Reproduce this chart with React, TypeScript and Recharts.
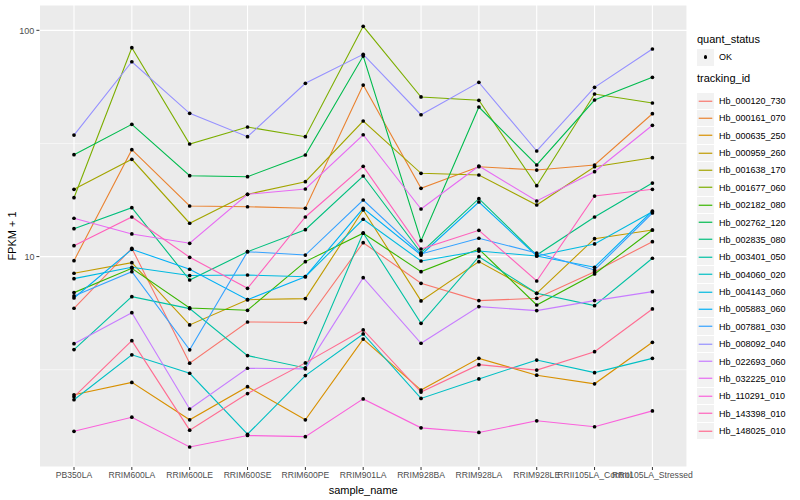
import React from "react";
import {
  LineChart,
  Line,
  XAxis,
  YAxis,
  CartesianGrid,
  ReferenceLine,
} from "recharts";

// sample names along the x axis
const samples = [
  "PB350LA",
  "RRIM600LA",
  "RRIM600LE",
  "RRIM600SE",
  "RRIM600PE",
  "RRIM901LA",
  "RRIM928BA",
  "RRIM928LA",
  "RRIM928LE",
  "RRII105LA_Control",
  "RRII105LA_Stressed",
];

// FPKM + 1, one array per tracking_id, in sample order
const hb000120_730 = [5.91, 10.88, 3.38, 5.14, 5.11, 11.52, 7.62, 6.39, 6.54, 8.58, 11.64];
const hb000161_070 = [9.59, 29.68, 16.73, 16.61, 16.35, 57.3, 20.04, 24.96, 24.13, 25.4, 42.8];
const hb000635_250 = [2.45, 2.78, 1.9, 2.66, 1.9, 4.32, 2.57, 3.55, 2.99, 2.74, 4.18];
const hb000959_260 = [8.44, 9.4, 4.99, 6.45, 6.52, 16.07, 6.37, 9.5, 6.88, 12.0, 13.11];
const hb001638_170 = [19.83, 26.92, 14.04, 18.85, 21.43, 39.74, 23.34, 22.94, 16.9, 24.96, 27.35];
const hb001677_060 = [18.21, 83.8, 31.45, 37.38, 33.87, 104.2, 50.75, 49.06, 20.57, 52.3, 47.72];
const hb002182_080 = [6.93, 8.88, 5.93, 5.79, 9.5, 12.68, 8.58, 10.8, 6.11, 8.38, 13.11];
const hb002762_120 = [28.21, 38.42, 22.78, 22.55, 28.12, 76.97, 11.76, 45.83, 25.4, 49.2, 62.0];
const hb002835_080 = [13.28, 16.45, 7.88, 10.51, 13.15, 22.71, 10.4, 18.03, 10.16, 14.96, 21.14];
const hb003401_050 = [3.88, 6.65, 5.89, 3.65, 3.22, 12.72, 5.07, 9.99, 6.88, 6.07, 9.83];
const hb004060_020 = [2.33, 3.68, 3.05, 1.64, 2.98, 4.55, 2.36, 2.88, 3.49, 3.07, 3.55];
const hb004143_060 = [7.99, 8.97, 8.25, 8.29, 8.15, 14.62, 9.56, 10.58, 10.06, 11.37, 15.79];
const hb005883_060 = [6.56, 10.77, 8.79, 6.45, 8.15, 16.35, 10.16, 17.43, 10.06, 8.97, 15.9];
const hb007881_030 = [6.7, 8.58, 3.87, 10.51, 10.16, 17.79, 10.27, 12.05, 10.37, 8.73, 15.58];
const hb008092_040 = [34.45, 72.64, 42.97, 33.87, 58.32, 78.3, 42.36, 58.9, 29.29, 56.0, 82.7];
const hb022693_060 = [4.12, 5.65, 2.12, 3.21, 3.19, 8.07, 4.14, 6.01, 5.77, 6.39, 7.0];
const hb032225_010 = [14.77, 12.59, 11.45, 18.85, 19.89, 34.56, 16.23, 25.14, 17.61, 23.72, 38.04];
const hb110291_010 = [1.69, 1.95, 1.44, 1.62, 1.6, 2.35, 1.75, 1.67, 1.88, 1.77, 2.08];
const hb143398_010 = [11.17, 14.96, 9.93, 7.24, 14.96, 25.06, 10.8, 13.07, 7.8, 18.52, 19.83];
const hb148025_010 = [2.4, 4.25, 1.71, 2.48, 3.39, 4.74, 2.52, 3.33, 3.15, 3.8, 5.87];

const trackingIds = [
  "Hb_000120_730",
  "Hb_000161_070",
  "Hb_000635_250",
  "Hb_000959_260",
  "Hb_001638_170",
  "Hb_001677_060",
  "Hb_002182_080",
  "Hb_002762_120",
  "Hb_002835_080",
  "Hb_003401_050",
  "Hb_004060_020",
  "Hb_004143_060",
  "Hb_005883_060",
  "Hb_007881_030",
  "Hb_008092_040",
  "Hb_022693_060",
  "Hb_032225_010",
  "Hb_110291_010",
  "Hb_143398_010",
  "Hb_148025_010",
];

const seriesValues = [
  hb000120_730, hb000161_070, hb000635_250, hb000959_260, hb001638_170,
  hb001677_060, hb002182_080, hb002762_120, hb002835_080, hb003401_050,
  hb004060_020, hb004143_060, hb005883_060, hb007881_030, hb008092_040,
  hb022693_060, hb032225_010, hb110291_010, hb143398_010, hb148025_010,
];

// ggplot hue palette, 20 levels
const colors = [
  "#F8766D", "#EA8331", "#D89000", "#C09B00", "#A3A500",
  "#7CAE00", "#39B600", "#00BB4E", "#00BF7D", "#00C1A3",
  "#00BFC4", "#00BAE0", "#00B0F6", "#35A2FF", "#9590FF",
  "#C77CFF", "#E76BF3", "#FA62DB", "#FF62BC", "#FF6C91",
];

const data = samples.map((s, i) => {
  const row: any = { sample: s };
  trackingIds.forEach((id, j) => {
    row[id] = seriesValues[j][i];
  });
  return row;
});

const font = "'Liberation Sans', Arial, Helvetica, sans-serif";

function GgLegend() {
  const itemTop = 92.5;
  const step = 17.37;
  return (
    <div style={{ position: "absolute", left: 697, top: 0, fontFamily: font }}>
      <div style={{ position: "absolute", top: 33, left: 0, fontSize: 11, whiteSpace: "nowrap" }}>
        quant_status
      </div>
      <div style={{ position: "absolute", top: 48.5, left: 0, width: 17, height: 17, background: "#F2F2F2" }}>
        <div style={{ position: "absolute", left: 6.8, top: 6.8, width: 3.6, height: 3.6, borderRadius: 2, background: "#000" }} />
      </div>
      <div style={{ position: "absolute", top: 52, left: 22, fontSize: 9, whiteSpace: "nowrap" }}>OK</div>
      <div style={{ position: "absolute", top: 72, left: 0, fontSize: 11, whiteSpace: "nowrap" }}>
        tracking_id
      </div>
      {trackingIds.map((id, i) => (
        <React.Fragment key={id}>
          <div
            style={{
              position: "absolute",
              top: itemTop + i * step,
              left: 0,
              width: 17,
              height: 16.5,
              background: "#F2F2F2",
            }}
          >
            <svg width={17} height={17} style={{ position: "absolute", left: 0, top: 0 }}>
              <line x1={1.7} x2={15.3} y1={8.25} y2={8.25} stroke={colors[i]} strokeWidth={1.2} />
            </svg>
          </div>
          <div
            style={{
              position: "absolute",
              top: itemTop + i * step + 3.5,
              left: 22,
              fontSize: 9,
              whiteSpace: "nowrap",
            }}
          >
            {id}
          </div>
        </React.Fragment>
      ))}
    </div>
  );
}

export default function App() {
  return (
    <div style={{ position: "absolute", left: 0, top: 0, width: 800, height: 500, background: "#fff" }}>
      <LineChart
        width={800}
        height={500}
        data={data}
        margin={{ top: 5, right: 113, left: 0, bottom: 0 }}
      >
        <CartesianGrid fill="#EBEBEB" stroke="#FFFFFF" strokeWidth={1.1} />
        <ReferenceLine y={Math.sqrt(10)} stroke="#FFFFFF" strokeWidth={0.55} />
        <ReferenceLine y={Math.sqrt(1000)} stroke="#FFFFFF" strokeWidth={0.55} />
        <XAxis
          dataKey="sample"
          interval={0}
          padding={{ left: 34.6, right: 34.6 }}
          height={33}
          axisLine={false}
          tickSize={3}
          tickMargin={2}
          tickLine={{ stroke: "#333333" }}
          tick={{ fill: "#4D4D4D", fontSize: 8.6, fontFamily: font }}
          label={{
            value: "sample_name",
            position: "insideBottom",
            offset: 6,
            style: { fill: "#000", fontSize: 11, fontFamily: font },
          }}
        />
        <YAxis
          scale="log"
          domain={[1.175, 129.4]}
          allowDataOverflow
          ticks={[10, 100]}
          width={39.4}
          axisLine={false}
          tickSize={3}
          tickMargin={2}
          tickLine={{ stroke: "#333333" }}
          tick={{ fill: "#4D4D4D", fontSize: 9, fontFamily: font }}
          label={{
            value: "FPKM + 1",
            angle: -90,
            position: "insideLeft",
            offset: 12,
            style: { textAnchor: "middle", fill: "#000", fontSize: 11, fontFamily: font },
          }}
        />
        {trackingIds.map((id, i) => (
          <Line
            key={id}
            dataKey={id}
            stroke={colors[i]}
            strokeWidth={1.1}
            dot={false}
            activeDot={false}
            isAnimationActive={false}
          />
        ))}
        {trackingIds.map((id) => (
          <Line
            key={id + "_pt"}
            dataKey={id}
            stroke="none"
            dot={{ r: 1.85, fill: "#000", stroke: "none" }}
            activeDot={false}
            legendType="none"
            isAnimationActive={false}
          />
        ))}
      </LineChart>
      <GgLegend />
    </div>
  );
}
